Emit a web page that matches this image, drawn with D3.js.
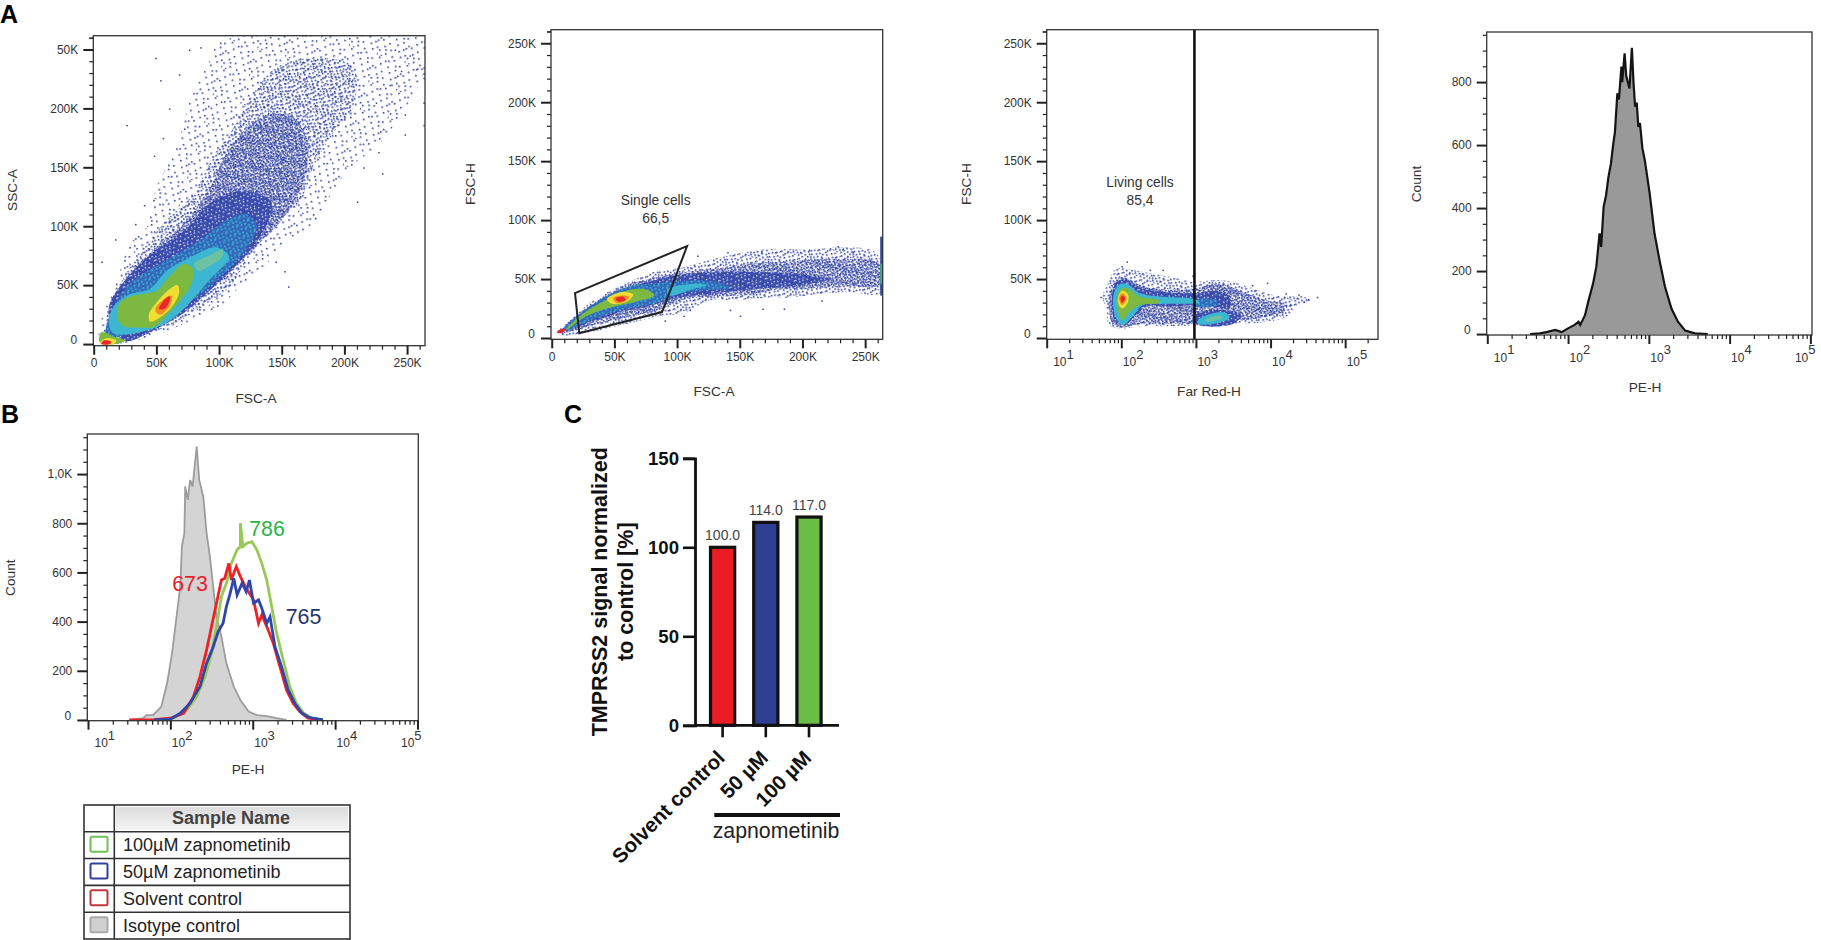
<!DOCTYPE html>
<html>
<head>
<meta charset="utf-8">
<script src="https://d3js.org/d3.v7.min.js"></script>
<style>
  html, body { margin: 0; padding: 0; background: #fff; overflow: hidden; }
  svg { display: block; }
  text { font-family: "Liberation Sans", Arial, sans-serif; fill: #333; }
</style>
</head>
<body>
<svg width="1821" height="940"></svg>
<script>
// ---- tick values and labels ----
const kTicks = [0, 50, 100, 150, 200, 250];
const kLabels = ["0", "50K", "100K", "150K", "200K", "250K"];
const ssc_yLabels = ["0", "50K", "100K", "150K", "200K", "50K"];  // top label really reads 50K in the figure
const decades = [10, 100, 1000, 10000, 100000];
const decadeExp = ["1", "2", "3", "4", "5"];
const countTicksA = [0, 200, 400, 600, 800];
const countTicksB = [0, 200, 400, 600, 800, 1000];
const countLabelsB = ["0", "200", "400", "600", "800", "1,0K"];

// ---- panel A1, FSC-A vs SSC-A, density outlines in K units ----
const a1Sparse = [[5,1],[6,20],[17,49],[29,85],[42,99],[50,133],[66,167],[77,207],[90,235],[106,262],[223,262],[263,258],[263,229],[244,193],[228,170],[205,150],[191,130],[173,99],[154,88],[138,68],[117,49],[101,32],[74,18],[45,6],[26,1]];
const a1Mid = [[10,20],[21,51],[37,77],[58,105],[80,128],[95,159],[109,179],[127,212],[146,235],[178,243],[207,235],[207,201],[191,179],[175,150],[165,122],[143,99],[122,71],[109,49],[90,34],[69,20],[37,6],[16,1]];
const a1Half = [[13,26],[29,60],[50,82],[74,105],[93,133],[106,162],[130,190],[155,195],[170,175],[168,140],[150,105],[117,71],[95,49],[74,29],[50,13],[24,3]];
const a1Solid = [[12,30],[28,58],[50,80],[74,98],[93,120],[120,130],[142,120],[135,95],[115,68],[90,43],[70,25],[48,12],[24,3]];
const a1Blue = [[16,32],[32,54],[58,71],[85,88],[106,105],[122,110],[130,100],[119,77],[95,51],[74,34],[50,18],[26,8],[10,6]];
const a1Cyan = [[12,18],[16,32],[28,42],[45,47],[58,62],[74,72],[98,82],[108,74],[92,54],[72,30],[58,18],[37,10],[16,9]];
const a1Teal = [[80,68],[92,75],[103,80],[102,73],[92,66],[84,62]];
const a1Green = [[19,22],[21,35],[31,41],[42,43],[50,45],[61,58],[72,68],[79,64],[78,51],[70,38],[59,25],[49,15],[34,14],[24,15]];
const a1Yellow = [[44,25],[50,35],[61,47],[67,50],[68,43],[61,30],[52,22],[45,19]];
const a1Orange = [[49,29],[57,39],[62,41],[61,33],[53,25]];
const a1Red = [[52,30],[59,40],[61,40],[57,30]];
const a1BlobGreen = [[5,1],[6,10],[17,6],[25,3],[17,0]];
const a1BlobYellow = [[5,1],[10,5],[18,3],[16,0]];
const a1BlobRed = [[6,0],[8,3],[14,2],[13,0]];
const a1Outliers = [[49,243],[53,224],[26,186],[17,89],[6,70],[155,49],[230,145],[210,121],[215,150],[227,163],[248,178],[248,195],[258,234],[76,250],[85,252],[68,229],[263,186],[263,205],[263,230],[263,235],[263,226],[60,200],[72,183],[55,175],[48,160],[40,118],[33,102],[152,62],[145,70],[225,205],[236,220],[245,232],[252,245],[240,250]];

// ---- panel A2, FSC-A vs FSC-H ----
const a2Sparse = [[4,4],[15,15],[33,32],[57,45],[78,55],[105,60],[129,67],[169,75],[206,75],[233,77],[259,72],[262,38],[238,39],[211,37],[185,34],[169,34],[148,32],[126,32],[105,21],[89,19],[52,10],[25,4],[9,2]];
const a2Half = [[7,5],[17,17],[33,29],[57,44],[78,50],[105,56],[132,59],[158,63],[190,65],[225,67],[261,63],[261,45],[233,44],[206,42],[180,41],[153,36],[126,35],[100,31],[86,24],[62,18],[36,12],[15,5]];
const a2Solid = [[10,6],[25,22],[50,38],[78,48],[105,54],[135,56],[165,56],[190,55],[212,52],[222,50],[212,47],[190,44],[165,42],[130,38],[100,34],[80,28],[55,22],[35,15]];
const a2Blue = [[8,6],[23,21],[41,34],[62,44],[78,46],[100,48],[118,49],[137,46],[142,42],[126,41],[100,37],[81,29],[52,23],[31,15],[15,7]];
const a2Teal = [[92,41],[113,46],[124,45],[110,41],[94,36]];
const a2Green = [[11,7],[28,23],[47,34],[62,41],[76,41],[82,36],[68,31],[44,25],[25,17],[12,7]];
const a2Yellow = [[44,33],[56,39],[65,37],[60,31],[48,29]];
const a2Orange = [[49,34],[56,36],[62,35],[56,30],[51,30]];
const a2Red = [[51,33.5],[57,35],[59,32],[53,31]];
const a2TipRed = [[4,5],[9,8],[11,7],[7,4]];
const a2Outliers = [[150,19],[142,24],[168,25],[185,25],[215,32],[110,24],[105,19],[90,15],[167,74],[228,78],[232,76],[240,73],[140,73],[116,70],[205,75]];
const a2Edge = [[36, 86]];
const a2EdgeGreen = [[46, 63]];
const singleCellGate = [[18.6,38],[108,78],[88,22],[22,4]];

// ---- panel A3, Far Red-H (log10 position) vs FSC-H ----
const a3Sparse = [[1.75,35],[1.84,49],[1.93,59],[2.11,58],[2.38,55],[2.65,52],[2.96,48],[3.36,49],[3.68,44],[4.08,36],[4.44,35],[4.53,32],[4.35,27],[4.21,18],[3.68,12],[3.14,11],[2.69,10],[2.25,10],[2,8],[1.84,11],[1.8,24]];
const a3Half = [[1.83,32],[1.89,46],[2.02,52],[2.25,45],[2.56,41],[2.96,42],[3.32,46],[3.63,39],[3.95,32],[4.21,29],[4.21,24],[3.9,17],[3.54,15],[3.14,12],[3.01,12],[2.69,12],[2.25,12],[2,9],[1.87,14]];
const a3Solid = [[1.87,32],[1.93,47],[2.05,50],[2.25,43],[2.56,39],[2.96,38],[3.3,40],[3.45,35],[3.45,25],[3.1,28],[2.7,27],[2.35,27],[2.2,20],[2.05,11],[1.92,14]];
const a3LowSolid = [[3,12],[3.5,12],[3.6,20],[3.3,24],[3,20]];
const a3Cyan = [[1.89,34],[1.96,45],[2.07,46],[2.25,38],[2.56,35],[2.98,33],[3.05,30],[2.56,29],[2.29,28],[2.16,19],[2.02,11],[1.93,17]];
const a3Green = [[1.94,34],[2,42],[2.09,42],[2.25,35],[2.51,32],[2.51,30],[2.25,28],[2.11,22],[2.02,15],[1.96,22]];
const a3Yellow = [[1.96,35],[2.01,40],[2.09,37],[2.08,29],[2.01,25],[1.96,29]];
const a3Orange = [[1.97,34],[2.01,38],[2.07,34],[2.01,28]];
const a3Red = [[1.99,34],[2.02,36],[2.05,33],[2.01,30]];
const a3LowCyan = [[3.03,15],[3.23,21],[3.41,21],[3.45,17],[3.23,12],[3.03,12]];
const a3LowGreen = [[3.12,15],[3.3,19],[3.36,17],[3.14,14]];
const a3ArmBlue = [[3.01,32],[3.28,32],[3.28,28],[3.01,27]];
const a3Outliers = [[2.07,65],[2.0,61],[1.72,35],[4.62,35],[4.5,33],[4.44,31],[4.37,37],[3.95,47],[3.75,45],[4.2,38],[4.26,29],[2.55,58],[2.38,58],[2.95,53]];
const livingGate = [955];

// ---- panel A4, single PE-H histogram ----
const a4Pos = [1.53,1.65,1.73,1.84,1.92,2.0,2.08,2.13,2.15,2.21,2.25,2.31,2.35,2.39,2.41,2.44,2.47,2.5,2.53,2.56,2.58,2.61,2.63,2.66,2.67,2.7,2.72,2.76,2.79,2.81,2.83,2.85,2.87,2.89,2.92,2.95,3.01,3.07,3.14,3.2,3.28,3.36,3.45,3.57,3.73];
const a4Count = [0,2,6,13,6,18,29,39,29,60,103,161,214,320,277,404,440,499,540,605,640,764,745,849,800,891,820,780,909,800,722,735,658,670,590,552,447,320,224,150,81,39,11,2,0];

// ---- panel B, overlay histograms ----
const isoPos = [1.51,1.67,1.71,1.79,1.89,1.96,2.02,2.08,2.12,2.14,2.17,2.18,2.21,2.24,2.27,2.32,2.35,2.4,2.44,2.48,2.52,2.56,2.62,2.68,2.77,2.85,2.95,3.05,3.17,3.29,3.41];
const isoCount = [0,7,20,20,54,149,271,434,542,705,760,950,895,976,950,1112,976,908,759,664,542,420,339,231,136,81,34,20,16,7,0];
const ctrlPos = [1.5,1.8,2.0,2.16,2.28,2.36,2.44,2.5,2.56,2.62,2.66,2.71,2.74,2.8,2.85,2.91,3.01,3.07,3.11,3.17,3.25,3.33,3.41,3.49,3.57,3.67,3.85];
const ctrlCount = [0,1,7,27,95,176,285,380,475,569,576,637,569,624,583,542,488,393,427,380,312,217,122,68,34,7,0];
const uM50Pos = [1.8,2.0,2.12,2.24,2.36,2.44,2.52,2.58,2.64,2.68,2.72,2.77,2.81,2.87,2.92,2.96,3.01,3.07,3.11,3.17,3.21,3.27,3.35,3.43,3.51,3.6,3.68,3.85];
const uM50Count = [0,3,27,68,136,231,298,359,393,461,508,576,508,556,522,569,475,488,454,393,420,298,217,122,68,27,11,0];
const uM100Pos = [1.8,2.04,2.2,2.32,2.42,2.5,2.56,2.62,2.68,2.74,2.81,2.85,2.85,2.88,2.93,2.99,3.05,3.11,3.17,3.23,3.29,3.37,3.45,3.53,3.62,3.72,3.85];
const uM100Count = [0,7,41,95,176,271,380,502,556,637,692,705,800,705,719,725,692,637,569,461,353,244,136,68,27,7,0];

const medians = ["673", "765", "786"];
const sampleNames = ["100µM zapnometinib", "50µM zapnometinib", "Solvent control", "Isotype control"];
const sampleStroke = ["#6cc255", "#33409c", "#c0383c", "#a9a9a9"];
const sampleFill = ["#fff", "#fff", "#fff", "#d0d0d0"];

// ---- panel C, bars ----
const conditions = ["Solvent control", "50 µM", "100 µM"];
const tmprss2 = [100, 114, 117];
const barColors = ["#ed1c24", "#2e3f92", "#6abd45"];
const barTicks = [0, 50, 100, 150];

const svg = d3.select("svg");
const defs = svg.append("defs");

// speckle fills for the low density parts of the dot plots
const speckleA = [[2,1],[9,3],[17,0],[24,4],[5,7],[13,8],[21,9],[27,11],[1,12],[8,14],[16,13],[23,16],[4,18],[11,20],[19,19],[26,21],[0,23],[7,25],[14,26],[22,24],[28,27],[3,28],[12,2],[20,5],[25,14],[6,21]];
const speckleB = [[0,1],[3,4],[6,0],[9,3],[12,1],[15,4],[18,2],[1,7],[5,6],[8,8],[11,6],[14,9],[17,7],[2,11],[6,10],[10,11],[13,13],[16,11],[0,14],[4,14],[7,15],[11,16],[15,15],[18,14],[2,17],[6,18],[9,18],[13,18],[17,17],[4,2],[10,14],[14,5],[1,10],[8,12]];
const speckleH = [[0,0],[2,1],[4,0],[6,2],[8,0],[10,1],[12,3],[1,3],[3,4],[5,5],[8,3],[10,4],[0,6],[2,7],[4,8],[6,7],[9,6],[11,7],[1,9],[3,10],[6,10],[8,9],[10,10],[12,9],[0,12],[2,12],[5,12],[7,11],[9,12],[11,12]];
const speckleW = [[1,1],[6,0],[10,2],[3,5],[8,5],[12,6],[0,8],[5,9],[9,9],[2,11],[7,12],[11,11]];
const speckleC = [[1,1],[5,0],[3,4],[7,4],[0,6],[5,7]];

function pattern(id, size, bg, dotColor, dots, dotSize, rot) {
  const p = defs.append("pattern").attr("id", id)
    .attr("patternUnits", "userSpaceOnUse")
    .attr("width", size).attr("height", size)
    .attr("patternTransform", `rotate(${rot})`);
  if (bg) p.append("rect").attr("width", size).attr("height", size).attr("fill", bg);
  p.selectAll("rect.d").data(dots).join("rect").attr("class", "d")
    .attr("x", d => d[0]).attr("y", d => d[1])
    .attr("width", dotSize).attr("height", dotSize).attr("fill", dotColor);
}
pattern("sparse", 29, null, "#2f3f9f", speckleA, 1.6, 17);
pattern("mid", 19, null, "#2f3f9f", speckleB, 1.6, 23);
pattern("half", 13, null, "#2f3f9f", speckleH, 1.6, 11);
pattern("dense", 13, "#3a4cab", "#e6eaf8", speckleW, 1.3, 31);
pattern("blue", 9, "#3468bb", "#39b5d2", speckleC, 1.7, 14);

const blur = defs.append("filter").attr("id", "soft");
blur.append("feGaussianBlur").attr("stdDeviation", 0.45);
const blur2 = defs.append("filter").attr("id", "softer")
  .attr("x", "-5%").attr("y", "-5%").attr("width", "110%").attr("height", "110%");
blur2.append("feGaussianBlur").attr("stdDeviation", 0.4);

const fills = {
  sparse: "url(#sparse)", mid: "url(#mid)", half: "url(#half)", dense: "url(#dense)", blue: "url(#blue)",
  cyan: "#3cb6d2", teal: "#6cc2a2", green: "#7db93f",
  yellow: "#f0de35", orange: "#f28b24", red: "#e9262b"
};

function text(g, x, y, s, size, opt) {
  opt = opt || {};
  const t = g.append("text").attr("x", x).attr("y", y).text(s)
    .attr("font-size", size)
    .attr("text-anchor", opt.anchor || "middle");
  if (opt.weight) t.attr("font-weight", opt.weight);
  if (opt.fill) t.style("fill", opt.fill);
  if (opt.rotate) t.attr("transform", `rotate(${opt.rotate},${x},${y})`);
  return t;
}

function styleAxis(g, width) {
  g.select(".domain").remove();
  g.selectAll("line").attr("stroke", "#222").attr("stroke-width", width);
  g.selectAll("text").attr("font-size", 12).style("fill", "#333");
}

// linear axis, big ticks every 50K and small ones every 10K
function bottomK(x, h) {
  const minor = d3.range(0, 261, 10).filter(v => v % 50 != 0);
  const g = svg.append("g").attr("transform", `translate(0,${h})`);
  g.append("g").call(d3.axisBottom(x).tickValues(minor).tickSize(4).tickFormat("")).call(styleAxis, 1.2);
  g.append("g").call(d3.axisBottom(x).tickValues(kTicks).tickSize(9).tickPadding(4).tickFormat((d, i) => kLabels[i])).call(styleAxis, 2);
}

function leftTicks(y, left, majors, labels, minors) {
  const g = svg.append("g").attr("transform", `translate(${left},0)`);
  g.append("g").call(d3.axisLeft(y).tickValues(minors).tickSize(4).tickFormat("")).call(styleAxis, 1.2);
  const big = g.append("g").call(d3.axisLeft(y).tickValues(majors).tickSize(10).tickPadding(5).tickFormat((d, i) => labels[i])).call(styleAxis, 2);
  // the zero label sits a little above its tick in the figure
  big.selectAll(".tick text").filter(d => d == 0).attr("y", -4).attr("dx", -1);
}

function bottomLog(x, h, lastShift) {
  const [lo, hi] = x.domain();
  const minor = [];
  decades.forEach(d => d3.range(2, 10).forEach(m => { if (d * m < hi) minor.push(d * m); }));
  const g = svg.append("g").attr("transform", `translate(0,${h})`);
  g.append("g").call(d3.axisBottom(x).tickValues(minor).tickSize(4).tickFormat("")).call(styleAxis, 1.2);
  const big = g.append("g").call(d3.axisBottom(x).tickValues(decades).tickSize(9).tickPadding(9).tickFormat("")).call(styleAxis, 2);
  big.selectAll(".tick text").each(function(d, i) {
    const t = d3.select(this).attr("text-anchor", "start")
      .attr("dx", i == 0 ? 6 : (i == 4 ? lastShift : 1));
    t.text("10");
    t.append("tspan").attr("dy", "-0.55em").attr("font-size", 13).text(decadeExp[i]);
  });
}

function frame(x0, x1, y0, y1) {
  svg.append("rect").attr("x", x0).attr("y", y0)
    .attr("width", x1 - x0).attr("height", y1 - y0)
    .attr("fill", "none").attr("stroke", "#333").attr("stroke-width", 1.3);
}

let clipN = 0;
function plotArea(x0, x1, y0, y1) {
  const id = "clip" + (clipN++);
  defs.append("clipPath").attr("id", id).append("rect")
    .attr("x", x0).attr("y", y0).attr("width", x1 - x0).attr("height", y1 - y0);
  return svg.append("g").attr("clip-path", `url(#${id})`);
}

function density(g, layers, px, py) {
  const shape = d3.line().x(px).y(py).curve(d3.curveCatmullRomClosed.alpha(0.5));
  const inner = g.append("g").attr("filter", "url(#soft)");
  layers.forEach(l => inner.append("path").attr("d", shape(l[0])).attr("fill", fills[l[1]]));
}

function dots(g, pts, px, py) {
  g.selectAll("rect.o").data(pts).join("rect").attr("class", "o")
    .attr("x", px).attr("y", py).attr("width", 1.5).attr("height", 1.5)
    .attr("fill", "#3344a4");
}

const yMinorK = d3.range(0, 261, 10).filter(v => v % 50 != 0);

// ---------------- A1 ----------------
{
  const x = d3.scaleLinear().domain([0, 264.3]).range([93.7, 425]);
  const y = d3.scaleLinear().domain([-1.4, 261.7]).range([345.7, 35.7]);
  const g = plotArea(93.3, 425, 35.7, 345.7);
  density(g, [[a1Sparse, "sparse"], [a1Mid, "mid"], [a1Half, "half"], [a1Solid, "dense"], [a1Blue, "blue"], [a1Cyan, "cyan"], [a1Teal, "teal"],
    [a1Green, "green"], [a1Yellow, "yellow"], [a1Orange, "orange"], [a1Red, "red"],
    [a1BlobGreen, "green"], [a1BlobYellow, "yellow"], [a1BlobRed, "red"]], d => x(d[0]), d => y(d[1]));
  dots(g, a1Outliers, d => x(d[0]), d => y(d[1]));
  frame(93.3, 425, 35.7, 345.7);
  bottomK(x, 345.7);
  leftTicks(y, 93.3, kTicks, ssc_yLabels, yMinorK.concat([260]));
  text(svg, 256, 402.5, "FSC-A", 13.7);
  text(svg, 17, 190, "SSC-A", 13.7, { rotate: -90 });
}

// ---------------- A2 ----------------
{
  const x = d3.scaleLinear().domain([0, 264]).range([551.7, 882.7]);
  const y = d3.scaleLinear().domain([-1.1, 261.5]).range([339.3, 29.7]);
  const g = plotArea(551, 882.7, 29.7, 339.3);
  density(g, [[a2Sparse, "mid"], [a2Half, "half"], [a2Solid, "dense"], [a2Blue, "blue"], [a2Teal, "cyan"], [a2Green, "green"],
    [a2Yellow, "yellow"], [a2Orange, "orange"], [a2Red, "red"], [a2TipRed, "red"]], d => x(d[0]), d => y(d[1]));
  dots(g, a2Outliers, d => x(d[0]), d => y(d[1]));
  g.selectAll("rect.edge").data(a2Edge).join("rect").attr("class", "edge")
    .attr("x", x(262)).attr("width", 2.5).attr("y", d => y(d[1])).attr("height", d => y(d[0]) - y(d[1])).attr("fill", "#2f4aa8");
  g.selectAll("rect.edge2").data(a2EdgeGreen).join("rect").attr("class", "edge2")
    .attr("x", x(262)).attr("width", 2.5).attr("y", d => y(d[1])).attr("height", d => y(d[0]) - y(d[1])).attr("fill", "#3fae7a");
  svg.append("path")
    .attr("d", d3.line().x(d => x(d[0])).y(d => y(d[1])).curve(d3.curveLinearClosed)(singleCellGate))
    .attr("fill", "none").attr("stroke", "#222").attr("stroke-width", 2);
  frame(551, 882.7, 29.7, 339.3);
  bottomK(x, 339.3);
  leftTicks(y, 551, kTicks, kLabels, yMinorK.concat([260]));
  text(svg, 655.7, 205, "Single cells", 13.8);
  text(svg, 655.7, 223, "66,5", 13.8);
  text(svg, 714, 396, "FSC-A", 13.7);
  text(svg, 475, 184, "FSC-H", 13.7, { rotate: -90 });
}

// ---------------- A3 ----------------
{
  const x = d3.scaleLog().domain([10, Math.pow(10, 5.44)]).range([1046.7, 1378]);
  const y = d3.scaleLinear().domain([-1.1, 261.5]).range([339.3, 29.7]);
  const px = d => x(Math.pow(10, d[0]));
  const g = plotArea(1046.7, 1378, 29.7, 339.3);
  density(g, [[a3Sparse, "mid"], [a3Half, "half"], [a3Solid, "dense"], [a3LowSolid, "dense"], [a3ArmBlue, "blue"], [a3Cyan, "cyan"], [a3Green, "green"],
    [a3Yellow, "yellow"], [a3Orange, "orange"], [a3Red, "red"], [a3LowCyan, "cyan"], [a3LowGreen, "teal"]], px, d => y(d[1]));
  dots(g, a3Outliers, px, d => y(d[1]));
  g.selectAll("line.gate").data(livingGate).join("line").attr("class", "gate")
    .attr("x1", d => x(d)).attr("x2", d => x(d))
    .attr("y1", 29.7).attr("y2", 342)
    .attr("stroke", "#111").attr("stroke-width", 2.6);
  frame(1046.7, 1378, 29.7, 339.3);
  bottomLog(x, 339.3, 1);
  leftTicks(y, 1046.7, kTicks, kLabels, yMinorK.concat([260]));
  text(svg, 1140, 187, "Living cells", 13.8);
  text(svg, 1140, 205, "85,4", 13.8);
  text(svg, 1209, 396, "Far Red-H", 13.7);
  text(svg, 971, 184, "FSC-H", 13.7, { rotate: -90 });
}

// ---------------- A4 ----------------
{
  const x = d3.scaleLog().domain([10, Math.pow(10, 5.02)]).range([1487.3, 1812]);
  const y = d3.scaleLinear().domain([-3, 959]).range([335, 32]);
  const g = plotArea(1486.7, 1812, 32, 335);
  const rows = a4Pos.map((p, i) => [p, a4Count[i]]);
  g.append("path").datum(rows)
    .attr("d", d3.area().x(d => x(Math.pow(10, d[0]))).y0(y(0)).y1(d => y(d[1])))
    .attr("fill", "#999");
  g.append("path").datum(rows)
    .attr("d", d3.line().x(d => x(Math.pow(10, d[0]))).y(d => y(d[1])))
    .attr("fill", "none").attr("stroke", "#141414").attr("stroke-width", 2.2);
  frame(1486.7, 1812, 32, 335);
  bottomLog(x, 335, -16);
  leftTicks(y, 1486.7, countTicksA, countTicksA.map(String), d3.range(0, 951, 50).filter(v => v % 200 != 0));
  text(svg, 1645, 392, "PE-H", 13.7);
  text(svg, 1421, 184, "Count", 13.7, { rotate: -90 });
}

// ---------------- B ----------------
{
  const x = d3.scaleLog().domain([10, Math.pow(10, 5.01)]).range([88, 418.3]);
  const y = d3.scaleLinear().domain([-3, 1163]).range([720.7, 434]);
  const g = plotArea(87.3, 418.3, 434, 720.7);
  const zip = (a, b) => a.map((p, i) => [p, b[i]]);
  const px = d => x(Math.pow(10, d[0]));
  const iso = zip(isoPos, isoCount);
  g.append("path").datum(iso).attr("d", d3.area().x(px).y0(y(0)).y1(d => y(d[1]))).attr("fill", "#d4d4d4");
  const line = d3.line().x(px).y(d => y(d[1]));
  const curves = g.append("g").attr("filter", "url(#softer)");
  curves.append("path").datum(iso).attr("d", line).attr("fill", "none").attr("stroke", "#9c9c9c").attr("stroke-width", 1.8);
  [[uM100Pos, uM100Count, "#97c957"], [ctrlPos, ctrlCount, "#ee2027"], [uM50Pos, uM50Count, "#2e46a8"]].forEach(s => {
    curves.append("path").datum(zip(s[0], s[1])).attr("d", line)
      .attr("fill", "none").attr("stroke", s[2]).attr("stroke-width", 2.8);
  });
  frame(87.3, 418.3, 434, 720.7);
  bottomLog(x, 720.7, -17);
  leftTicks(y, 87.3, countTicksB, countLabelsB, d3.range(0, 1151, 50).filter(v => v % 200 != 0));
  text(svg, 190, 590.5, medians[0], 21.4, { fill: "#ed1c2b" });
  text(svg, 303.5, 624, medians[1], 21.4, { fill: "#1f3570" });
  text(svg, 267, 536, medians[2], 21.4, { fill: "#2db34a" });
  text(svg, 248, 774, "PE-H", 13.7);
  text(svg, 15.5, 577.7, "Count", 13.7, { rotate: -90 });
}

// ---------------- sample table ----------------
{
  const rowY = d3.scaleBand().domain(d3.range(sampleNames.length)).range([831.7, 939]);
  const grad = defs.append("linearGradient").attr("id", "head").attr("x1", 0).attr("x2", 0).attr("y1", 0).attr("y2", 1);
  grad.append("stop").attr("offset", 0).attr("stop-color", "#dcdcdc");
  grad.append("stop").attr("offset", 1).attr("stop-color", "#f4f4f4");
  svg.append("rect").attr("x", 116).attr("y", 807).attr("width", 232).attr("height", 23).attr("fill", "url(#head)");
  text(svg, 231, 824, "Sample Name", 18, { weight: "bold", fill: "#444" });
  const rows = svg.append("g").selectAll("g").data(sampleNames).join("g")
    .attr("transform", (d, i) => `translate(0,${rowY(i)})`);
  rows.append("rect").attr("x", 90.5).attr("y", 5).attr("width", 17).attr("height", 15)
    .attr("rx", 1.5).attr("fill", (d, i) => sampleFill[i])
    .attr("stroke", (d, i) => sampleStroke[i]).attr("stroke-width", 2);
  rows.append("text").attr("x", 123).attr("y", 19.5).attr("font-size", 18).style("fill", "#222").text(d => d);
  const lines = svg.append("g").attr("stroke", "#333").attr("stroke-width", 1.6);
  lines.append("rect").attr("x", 84).attr("y", 805).attr("width", 266).attr("height", 134).attr("fill", "none");
  lines.append("line").attr("x1", 114.3).attr("x2", 114.3).attr("y1", 805).attr("y2", 939);
  rowY.domain().forEach(i => lines.append("line").attr("x1", 84).attr("x2", 350).attr("y1", rowY(i)).attr("y2", rowY(i)));
}

// ---------------- C ----------------
{
  const x = d3.scaleBand().domain(conditions).range([701, 830.6]).paddingInner(0.44).paddingOuter(0.22);
  const y = d3.scaleLinear().domain([0, 150]).range([725.3, 458.3]);
  svg.append("g").selectAll("rect").data(conditions).join("rect")
    .attr("x", d => x(d)).attr("width", x.bandwidth())
    .attr("y", (d, i) => y(tmprss2[i])).attr("height", (d, i) => y(0) - y(tmprss2[i]))
    .attr("fill", (d, i) => barColors[i])
    .attr("stroke", "#111").attr("stroke-width", 3.2);
  svg.append("g").selectAll("text").data(tmprss2).join("text")
    .attr("x", (d, i) => x(conditions[i]) + x.bandwidth() / 2).attr("y", d => y(d) - 7.5)
    .attr("text-anchor", "middle").attr("font-size", 14).style("fill", "#444")
    .text(d => d.toFixed(1));

  const yAx = svg.append("g").attr("transform", "translate(695,0)")
    .call(d3.axisLeft(y).tickValues(barTicks).tickSize(12).tickPadding(4));
  yAx.select(".domain").attr("stroke", "#111").attr("stroke-width", 2.8);
  yAx.selectAll("line").attr("stroke", "#111").attr("stroke-width", 2.6);
  yAx.selectAll("text").attr("font-size", 18.6).attr("font-weight", "bold").style("fill", "#111");

  const xAx = svg.append("g").attr("transform", "translate(0,725.3)")
    .call(d3.axisBottom(x).tickSize(12).tickPadding(5));
  xAx.select(".domain").attr("d", "M695,0H839").attr("stroke", "#111").attr("stroke-width", 2.8);
  xAx.selectAll("line").attr("stroke", "#111").attr("stroke-width", 2.6);
  xAx.selectAll("text").attr("font-size", 20.5).attr("font-weight", "bold").style("fill", "#111")
    .attr("text-anchor", "end").attr("x", -21.5).attr("y", 26.5).attr("dy", 0)
    .attr("transform", "rotate(-45)");

  text(svg, 607, 591.7, "TMPRSS2 signal normalized", 21.5, { weight: "bold", rotate: -90, fill: "#111" });
  text(svg, 633, 591.7, "to control [%]", 21.5, { weight: "bold", rotate: -90, fill: "#111" });
  svg.append("line").attr("x1", 714.3).attr("x2", 840).attr("y1", 815).attr("y2", 815)
    .attr("stroke", "#111").attr("stroke-width", 4);
  text(svg, 776, 838, "zapnometinib", 21.3, { fill: "#222" });
}

// panel letters
text(svg, 0, 23, "A", 25, { weight: "bold", anchor: "start", fill: "#000" });
text(svg, 1, 423, "B", 25, { weight: "bold", anchor: "start", fill: "#000" });
text(svg, 564, 423, "C", 25, { weight: "bold", anchor: "start", fill: "#000" });
</script>
</body>
</html>
